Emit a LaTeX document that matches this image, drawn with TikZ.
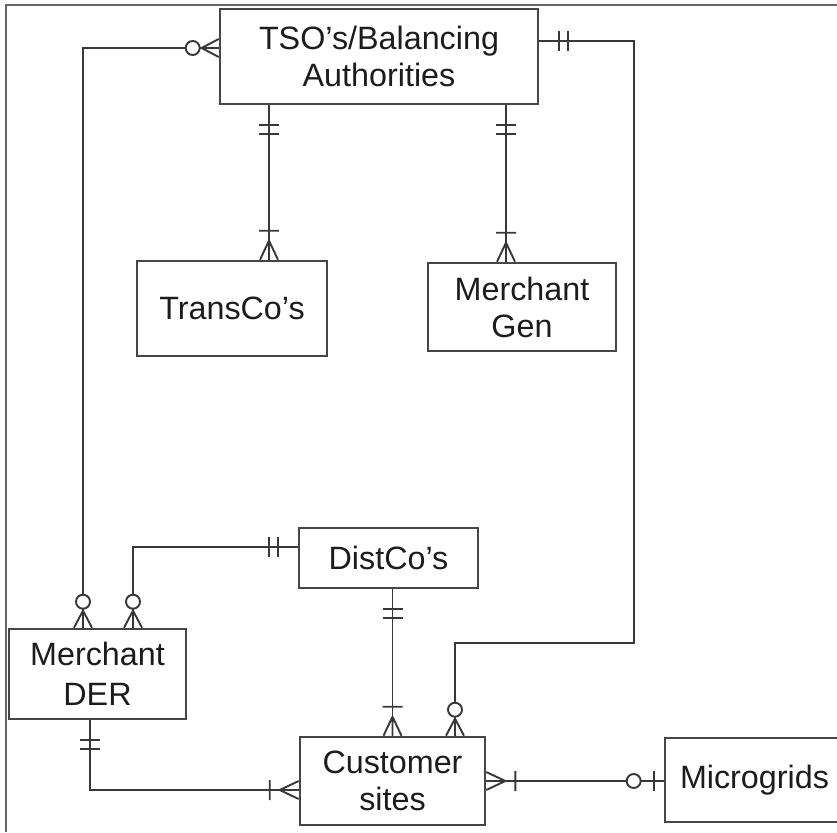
\documentclass[tikz,border=0pt]{standalone}
\usepackage{fontspec}
\setmainfont{Liberation Sans}
\definecolor{boxc}{HTML}{464646}
\definecolor{linec}{HTML}{383838}
\definecolor{txtc}{HTML}{1C1C1C}
\tikzset{
  entity/.style={draw=boxc, line width=2.6pt, rectangle, align=center, inner sep=0pt,
    text=txtc, font=\fontsize{32.3}{37}\selectfont},
  conn/.style={draw=linec, line width=1.9pt},
  onemany/.pic={\draw[conn] (0,9)--(19,0) (0,-9)--(19,0) (0,0)--(19,0) (29,-10)--(29,10);},
  zeromany/.pic={\draw[conn] (0,9)--(17,0) (0,-9)--(17,0) (0,0)--(17,0); \draw[conn,fill=white] (26,0) circle (7);},
  oneone/.pic={\draw[conn] (20,-10)--(20,10) (29,-10)--(29,10);},
  zeroone/.pic={\draw[conn] (10,-10)--(10,10); \draw[conn,fill=white] (30,0) circle (7);}
}
\begin{document}
\begin{tikzpicture}[x=1pt,y=1pt]
\useasboundingbox (0,0) rectangle (837,-832);
% outer frame
\draw[color=gray!80!black, line width=1.4pt] (6,-832) -- (6,-5) -- (837,-5);

% entities
\node[entity, minimum width=318pt, minimum height=95pt] (tso) at (379,-56.5) {TSO’s/Balancing\\Authorities};
\node[entity, minimum width=190pt, minimum height=95pt] (transco) at (232,-308.5) {TransCo’s};
\node[entity, minimum width=188pt, minimum height=88pt] (mgen) at (522,-307) {Merchant\\Gen};
\node[entity, minimum width=179pt, minimum height=60pt] (distco) at (388.5,-558) {DistCo’s};
\node[entity, minimum width=177pt, minimum height=90pt] (der) at (97.5,-674) {Merchant\\[3pt]DER};
\node[entity, minimum width=185pt, minimum height=88pt] (cust) at (392.5,-781) {Customer\\sites};
\node[entity, minimum width=175pt, minimum height=84pt, text width=175pt, align=left] (micro) at (752.5,-780) {\hspace*{15pt}Microgrids};

% endpoints
\coordinate (tsoW) at ([yshift=8.5pt]tso.west);
\coordinate (derA) at ([xshift=-14.5pt]der.north);
\coordinate (tsoE) at ([yshift=15.5pt]tso.east);
\coordinate (bend2) at (634,-643);
\coordinate (custA) at ([xshift=62.5pt]cust.north);
\coordinate (tsoS1) at ([xshift=-110pt]tso.south);
\coordinate (trN) at ([xshift=37pt]transco.north);
\coordinate (tsoS2) at ([xshift=127pt]tso.south);
\coordinate (mgN) at ([xshift=-16pt]mgen.north);
\coordinate (dcW) at ([yshift=11pt]distco.west);
\coordinate (derB) at ([xshift=35.5pt]der.north);
\coordinate (dcS) at ([xshift=4pt]distco.south);
\coordinate (custB) at ([xshift=0pt]cust.north);
\coordinate (derS) at ([xshift=-7.5pt]der.south);
\coordinate (bend7) at (90,-790);
\coordinate (custW) at ([yshift=-9pt]cust.west);
\coordinate (custE) at (cust.east);
\coordinate (micW) at (cust.east -| micro.west);

% connectors
\draw[conn] (tsoW) -| (derA);
\draw[conn] (tsoE) -| (bend2) -| (custA);
\draw[conn] (tsoS1) -- (trN);
\draw[conn] (tsoS2) -- (mgN);
\draw[conn] (dcW) -| (derB);
\draw[conn] (dcS) -- (dcS |- custB);
\draw[conn] (derS) |- (bend7) -- (custW);
\draw[conn] (custE) -- (micW);

% ends
\path (tsoW) pic[rotate=180] {zeromany};
\path (derA) pic[rotate=90] {zeromany};
\path (tsoE) pic {oneone};
\path (custA) pic[rotate=90] {zeromany};
\path (tsoS1) pic[rotate=-90] {oneone};
\path (trN) pic[rotate=90] {onemany};
\path (tsoS2) pic[rotate=-90] {oneone};
\path (mgN) pic[rotate=90] {onemany};
\path (dcW) pic[rotate=180] {oneone};
\path (derB) pic[rotate=90] {zeromany};
\path (dcS) pic[rotate=-90] {oneone};
\path (dcS |- custB) pic[rotate=90] {onemany};
\path (derS) pic[rotate=-90] {oneone};
\path (custW) pic[rotate=180] {onemany};
\path (custE) pic {onemany};
\path (micW) pic[rotate=180] {zeroone};
\end{tikzpicture}
\end{document}
